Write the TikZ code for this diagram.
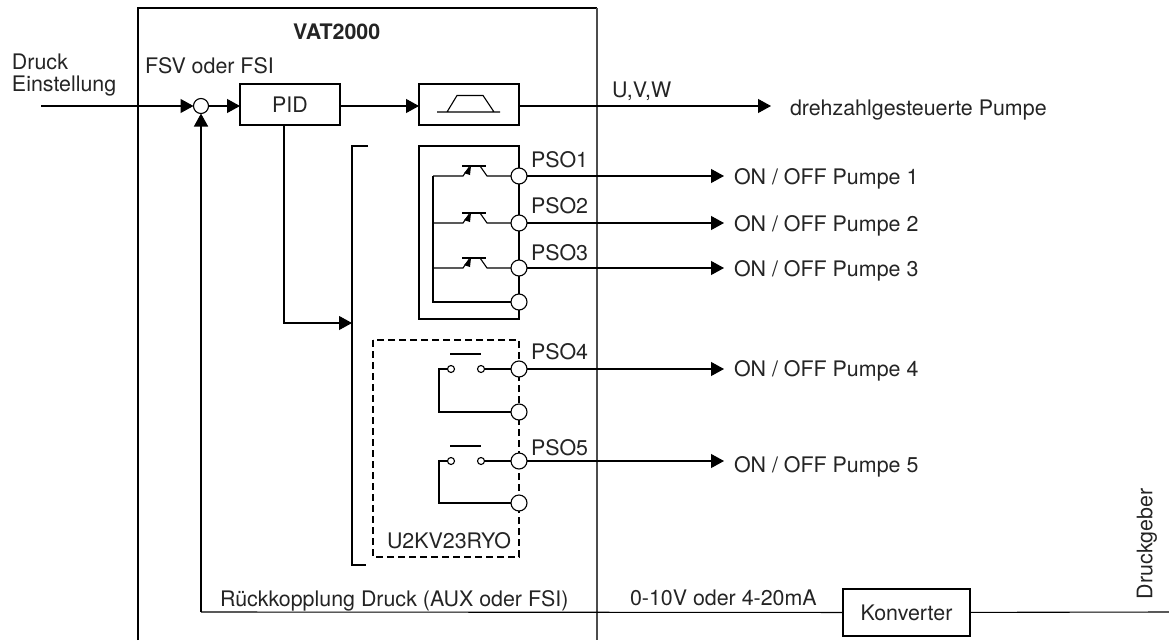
\documentclass[tikz,border=0pt]{standalone}
\usepackage{fontspec}
\setmainfont{TeX Gyre Heros}
\usetikzlibrary{arrows.meta}
\definecolor{framegray}{gray}{0.3}
\definecolor{textgray}{gray}{0.14}
\tikzset{
    wire/.style = {line width=1.1pt},
    arrowwire/.style = {wire, -{Triangle[length=13pt,width=14pt]}},
    block/.style = {draw, line width=1.1pt, inner sep=0pt, outer sep=0pt, text=textgray},
    port/.style = {circle, draw, fill=white, line width=1.1pt, minimum size=16pt, inner sep=0pt, outer sep=0pt},
    contact/.style = {circle, draw, fill=white, line width=1.1pt, minimum size=7pt, inner sep=0pt, outer sep=0pt},
    lbl/.style = {inner sep=0pt, outer sep=0pt, anchor=west, text=textgray}
}
\begin{document}
\begin{tikzpicture}[x=1pt, y=-1pt, font=\fontsize{21.4}{25}\selectfont]
    \useasboundingbox (0,0) rectangle (1169,640);
    % frame of the drive
    \draw[wire] (138,640) -- (138,8) -- (597,8);
    \draw[wire, framegray, line width=1.3pt] (597,8) -- (597,640);
    \node[lbl, font=\fontsize{21.4}{25}\selectfont\bfseries] (title) at (293,32) {VAT2000};
    \node[lbl] (fsv) at (145,65.5) {FSV oder FSI};
    \node[lbl] (drucktext) at (12,62) {Druck};
    \node[lbl] (einsttext) at (12,86) {Einstellung};
    % control path
    \coordinate (in) at (41,106);
    \node[circle, draw, line width=1.1pt, minimum size=15pt, inner sep=0pt, outer sep=0pt] (sum) at (201,106) {};
    \node[block, minimum width=100pt, minimum height=41pt] (pid) at (290,104.5) {PID};
    \node[block, minimum width=100pt, minimum height=41pt] (ramp) at (469,104.5) {};
    \coordinate (uvw) at (771,106);
    \draw[arrowwire] (in) -- (sum);
    \draw[arrowwire] (sum) -- (pid.west |- sum);
    \draw[arrowwire] (pid.east |- sum) -- (ramp.west |- sum);
    \draw[arrowwire] (ramp.east |- sum) -- (uvw);
    \draw[wire] (437,112) -- (500,112) (447,112) -- (457,95.5) -- (483,95.5) -- (494,112);
    \node[lbl] (uvwtext) at (612,91.5) {U,V,W};
    \node[lbl] (pump) at (790,110) {drehzahlgesteuerte Pumpe};
    % bracket
    \draw[wire] (368,146) -- (352,146) -- (352,565) -- (366,565);
    \coordinate (pidout) at (284,125);
    \coordinate (bracket) at (352,323);
    \draw[arrowwire] (pidout) |- (bracket);
    % transistor outputs
    \node[block, minimum width=100pt, minimum height=173pt] (solidbox) at (469,232.5) {};
    \foreach \y/\ly [count = \xi] in {176/160, 223/206, 268/253}
        {
            \node[port] (pso\xi) at (519,\y) {};
            \coordinate (rail\xi) at (433,\y);
            \coordinate (out\xi) at (724,\y);
            \draw[wire] (rail\xi) -- (463,\y) -- ++(7,-10) (480,\y-10) -- ++(7,10) -- (pso\xi);
            \draw[wire] (462,\y-10) -- (486,\y-10);
            \fill (464,\y-3) -- (471,\y-10) -- (470,\y-1) -- cycle;
            \draw[arrowwire] (pso\xi) -- (out\xi);
            \node[lbl] (psotext\xi) at (531,\ly) {PSO\xi};
            \node[lbl] (pumptext\xi) at (734,\y+3) {ON / OFF Pumpe \xi};
        }
    \node[port] (common) at (519,302) {};
    \draw[wire] (rail1) -- (433,302) -- (common);
    % relay outputs
    \draw[wire, dash pattern=on 7pt off 4pt] (373,340) rectangle (519,557);
    \foreach \y/\yy/\ly/\ty [count = \xi from 4] in {369/412/352/371, 461/503/448/467}
        {
            \node[port] (pso\xi) at (519,\y) {};
            \node[port] (back\xi) at (519,\yy) {};
            \node[contact] (left\xi) at (451,\y) {};
            \node[contact] (right\xi) at (481,\y) {};
            \coordinate (out\xi) at (724,\y);
            \draw[wire] (left\xi) -- (439,\y) -- (439,\yy) -- (back\xi);
            \draw[wire] (right\xi) -- (pso\xi);
            \draw[wire] (450,\y-15) -- (481,\y-15);
            \draw[arrowwire] (pso\xi) -- (out\xi);
            \node[lbl] (psotext\xi) at (531,\ly) {PSO\xi};
            \node[lbl] (pumptext\xi) at (734,\ty) {ON / OFF Pumpe \xi};
        }
    \node[lbl] (relaytext) at (387,541) {U2KV23RYO};
    % feedback
    \node[block, minimum width=127pt, minimum height=47pt] (conv) at (906.5,612.5) {Konverter};
    \coordinate (sensor) at (1169,612);
    \coordinate (fbcorner) at (201,612);
    \draw[wire] (sensor) -- (conv);
    \draw[wire] (conv) -- (fbcorner);
    \draw[arrowwire, line width=1.5pt] (fbcorner) -- (sum);
    \node[lbl] (fbtext) at (220,600.5) {Rückkopplung Druck (AUX oder FSI)};
    \node[lbl] (signal) at (630,598) {0-10V oder 4-20mA};
    \node[rotate=90, inner sep=0pt, text=textgray] (sensortext) at (1147,544) {Druckgeber};
\end{tikzpicture}
\end{document}
